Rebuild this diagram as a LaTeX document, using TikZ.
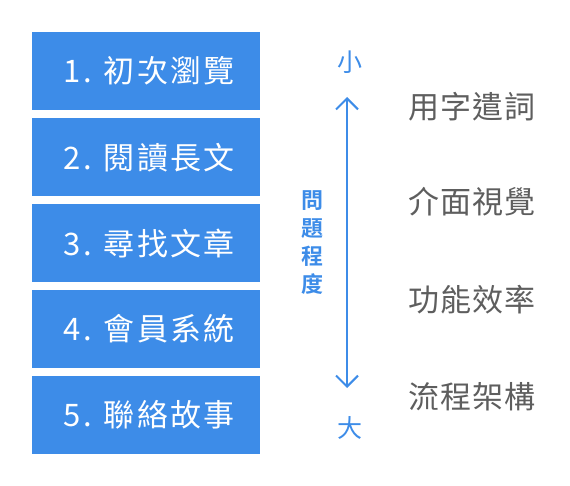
\documentclass[tikz,border=0pt]{standalone}
\usepackage{fontspec}
\usetikzlibrary{arrows.meta}
\newfontfamily\boxfont[LetterSpace=7]{Noto Sans CJK TC}
\newfontfamily\sidefont[LetterSpace=4]{Noto Sans CJK TC}
\newfontfamily\lblfont{Noto Sans CJK TC}
\newfontfamily\vertfont{Noto Sans CJK TC}[BoldFont={Noto Sans CJK TC Bold}]
\definecolor{boxblue}{HTML}{3D8CE8}
\definecolor{linkblue}{HTML}{3D8CE8}
\definecolor{sidegray}{HTML}{5E5E5E}
\tikzset{
  stepbox/.style={fill=boxblue, draw=none, minimum width=228pt, minimum height=78pt, inner sep=0pt, text=white, font=\boxfont\fontsize{31}{31}\selectfont, anchor=north west},
  sidelabel/.style={text=sidegray, font=\sidefont\fontsize{31}{31}\selectfont, anchor=center},
  endlabel/.style={text=linkblue, font=\lblfont\fontsize{25}{25}\selectfont},
  axis/.style={draw=linkblue, line width=2pt, {Straight Barb[length=11pt,width=22pt]}-{Straight Barb[length=11pt,width=22pt]}}
}
\begin{document}
\begin{tikzpicture}[x=1pt,y=-1pt]
\useasboundingbox (0,0) rectangle (570,486);
\node[stepbox] (s1) at (32,32)  {\hspace*{6pt}1. 初次瀏覽};
\node[stepbox] (s2) at (32,118) {\hspace*{6pt}2. 閱讀長文};
\node[stepbox] (s3) at (32,204) {\hspace*{6pt}3. 尋找文章};
\node[stepbox] (s4) at (32,290) {\hspace*{6pt}4. 會員系統};
\node[stepbox] (s5) at (32,376) {\hspace*{6pt}5. 聯絡故事};

\coordinate (top) at (347,97);
\coordinate (bot) at (347,388);
\draw[axis] (bot) -- (top);
\node[endlabel] (small) at (350,62) {小};
\node[endlabel] (large) at (350,428) {大};
\node[text=linkblue, font=\vertfont\bfseries\fontsize{22}{28}\selectfont, align=center, inner sep=0pt] (deg) at (312,243) {問\\題\\程\\度};

\node[sidelabel] (t1) at (472,107) {用字遣詞};
\node[sidelabel] (t2) at (472,202) {介面視覺};
\node[sidelabel] (t3) at (472,300) {功能效率};
\node[sidelabel] (t4) at (472,397) {流程架構};
\end{tikzpicture}
\end{document}
